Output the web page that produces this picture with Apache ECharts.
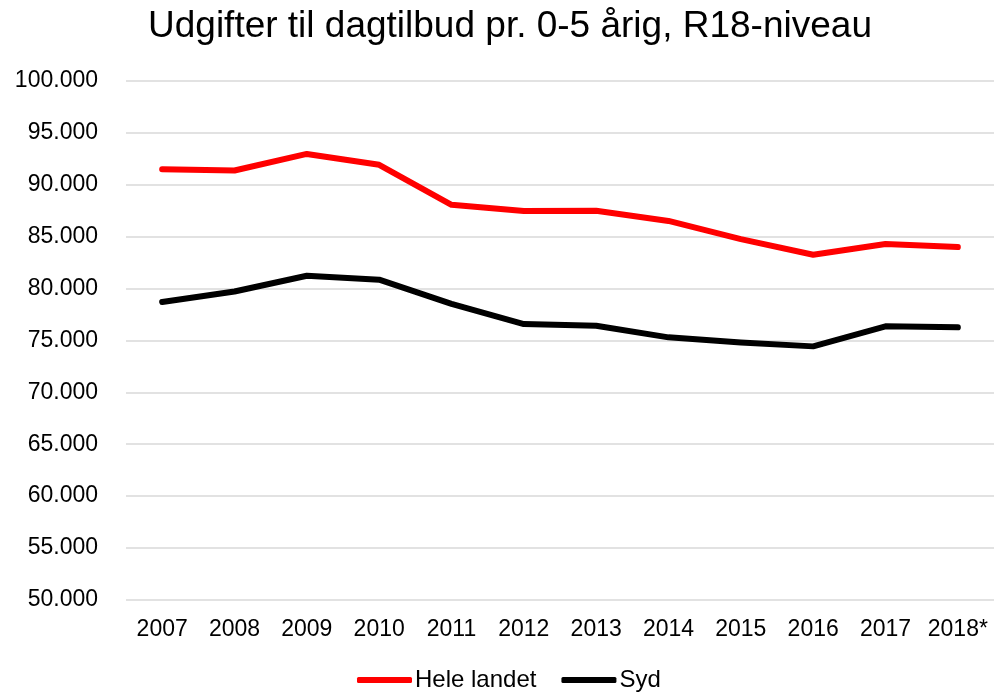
<!DOCTYPE html>
<html>
<head>
<meta charset="utf-8">
<script src="https://cdn.jsdelivr.net/npm/echarts@6/dist/echarts.min.js"></script>
<style>
  html, body { margin: 0; padding: 0; background: #fff; }
  #chart { width: 994px; height: 692px; }
</style>
</head>
<body>
<div id="chart"></div>
<script>
const years = ['2007', '2008', '2009', '2010', '2011', '2012', '2013', '2014', '2015', '2016', '2017', '2018*'];
const heleLandet = [91480, 91350, 92950, 91900, 88050, 87450, 87470, 86500, 84750, 83240, 84270, 83980];
const syd = [78690, 79700, 81220, 80840, 78520, 76570, 76410, 75290, 74800, 74420, 76350, 76250];

const font = 'Arial, "Liberation Sans", sans-serif';

const chart = echarts.init(document.getElementById('chart'));

// 100000 -> "100.000"
const fmt = v => String(v).replace(/\B(?=(\d{3})+(?!\d))/g, '.');

chart.setOption({
  backgroundColor: '#fff',
  animation: false,
  title: {
    text: 'Udgifter til dagtilbud pr. 0-5 årig, R18-niveau',
    left: 143,
    top: 3,
    textStyle: { fontFamily: font, fontSize: 37, fontWeight: 'normal', color: '#000' }
  },
  legend: {
    bottom: -5,
    left: 352,
    icon: 'roundRect',
    itemWidth: 55,
    itemHeight: 6,
    itemGap: 25,
    textStyle: { fontFamily: font, fontSize: 24, color: '#000', padding: [0, 0, 0, -2] },
    data: ['Hele landet', 'Syd']
  },
  grid: { left: 126, top: 80.7, width: 870, height: 519.3, containLabel: false },
  xAxis: {
    type: 'category',
    data: years,
    boundaryGap: true,
    axisLine: { show: false },
    axisTick: { show: false },
    axisLabel: { fontFamily: font, fontSize: 23, color: '#000', margin: 18, interval: 0 }
  },
  yAxis: {
    type: 'value',
    min: 50000,
    max: 100000,
    interval: 5000,
    axisLine: { show: false },
    axisTick: { show: false },
    splitLine: { lineStyle: { color: '#d9d9d9', width: 1.5 } },
    axisLabel: { fontFamily: font, fontSize: 23, color: '#000', margin: 28, formatter: fmt }
  },
  series: [
    {
      name: 'Hele landet',
      type: 'line',
      data: heleLandet,
      symbol: 'none',
      color: '#ff0000',
      lineStyle: { width: 6, color: '#ff0000', cap: 'round', join: 'round' }
    },
    {
      name: 'Syd',
      type: 'line',
      data: syd,
      symbol: 'none',
      color: '#000000',
      lineStyle: { width: 6, color: '#000000', cap: 'round', join: 'round' }
    }
  ]
});
</script>
</body>
</html>
